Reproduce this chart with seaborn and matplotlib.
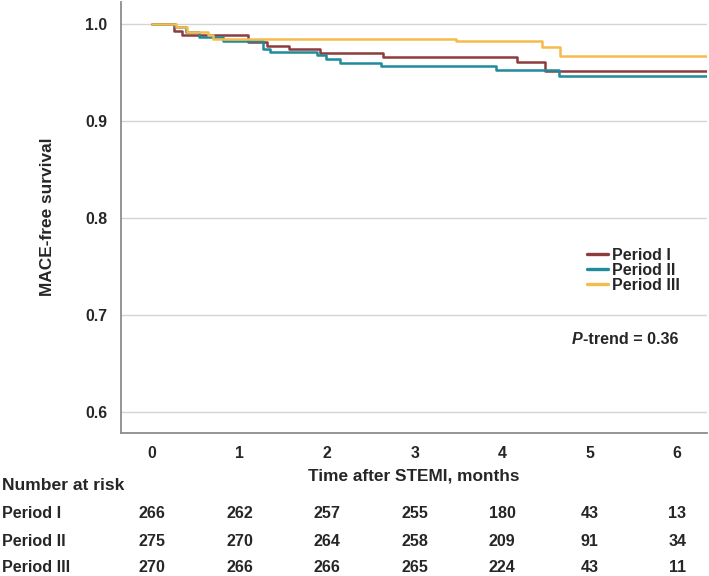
import matplotlib
matplotlib.use("Agg")
import matplotlib.pyplot as plt
import matplotlib.transforms as mtrans
from matplotlib.lines import Line2D
import seaborn as sns
import pandas as pd

# ---------------- data ----------------
periods = ["Period I", "Period II", "Period III"]
colors = ["#8e3b3d", "#1f8b9b", "#f5bb4b"]

time_p1 = [0.0, 0.25, 0.34, 1.10, 1.31, 1.56, 1.92, 2.64, 4.17, 4.49, 6.34]
surv_p1 = [1.000, 0.993, 0.989, 0.981, 0.977, 0.974, 0.970, 0.966, 0.961, 0.952, 0.952]

time_p2 = [0.0, 0.26, 0.39, 0.54, 0.81, 1.27, 1.35, 1.89, 1.99, 2.15, 2.62, 3.93, 4.65, 6.34]
surv_p2 = [1.000, 0.997, 0.992, 0.987, 0.982, 0.974, 0.971, 0.968, 0.964, 0.960, 0.957, 0.953, 0.946, 0.946]

time_p3 = [0.0, 0.27, 0.40, 0.64, 0.70, 3.47, 4.46, 4.66, 6.34]
surv_p3 = [1.000, 0.997, 0.992, 0.989, 0.985, 0.982, 0.976, 0.967, 0.967]

x_ticks = [0, 1, 2, 3, 4, 5, 6]
y_ticks = [0.6, 0.7, 0.8, 0.9, 1.0]
y_tick_labels = ["0.6", "0.7", "0.8", "0.9", "1.0"]

risk_p1 = [266, 262, 257, 255, 180, 43, 13]
risk_p2 = [275, 270, 264, 258, 209, 91, 34]
risk_p3 = [270, 266, 266, 265, 224, 43, 11]

p_trend = "0.36"

# ---------------- build table ----------------
frames = []
for name, t, s in zip(periods, [time_p1, time_p2, time_p3], [surv_p1, surv_p2, surv_p3]):
    frames.append(pd.DataFrame({"time": t, "surv": s, "period": name}))
df = pd.concat(frames, ignore_index=True)

# ---------------- style ----------------
sns.set_style("white")
plt.rcParams["font.family"] = ["Liberation Sans", "DejaVu Sans"]
plt.rcParams["font.weight"] = "bold"

W, H = 709, 576
fig = plt.figure(figsize=(W / 100, H / 100), dpi=100)
ax_l, ax_r, ax_t, ax_b = 121, 707, 2, 433
ax = fig.add_axes([ax_l / W, 1 - ax_b / H, (ax_r - ax_l) / W, (ax_b - ax_t) / H])

sns.lineplot(data=df, x="time", y="surv", hue="period", palette=colors,
             hue_order=periods, estimator=None, sort=False,
             drawstyle="steps-post", linewidth=1.8, legend=False, ax=ax)

ax.set_xlim(-0.354, 6.34)
ax.set_ylim(1 - (ax_b - 24) / 970, 1 + (24 - ax_t) / 970)
ax.set_xticks(x_ticks)
ax.set_xticklabels([str(v) for v in x_ticks])
ax.set_yticks(y_ticks)
ax.set_yticklabels(y_tick_labels)
ax.tick_params(axis="both", length=0, labelsize=11.4)
ax.tick_params(axis="y", pad=10)
ax.tick_params(axis="x", pad=9)
for lab in ax.get_xticklabels() + ax.get_yticklabels():
    lab.set_fontweight("bold")

ax.yaxis.grid(True, color="#d4d4d4", linewidth=1.0)
ax.xaxis.grid(False)
for side in ["top", "right"]:
    ax.spines[side].set_visible(False)
for side in ["left", "bottom"]:
    ax.spines[side].set_color("#8c8c8c")
    ax.spines[side].set_linewidth(1.3)

ax.set_xlabel("Time after STEMI, months", fontsize=12.4, fontweight="bold")
ax.set_ylabel("MACE-free survival", fontsize=12.4, fontweight="bold")
ax.xaxis.set_label_coords(0.5, -0.083)
ax.yaxis.set_label_coords(-0.112, 0.501)

# legend
handles = [Line2D([0], [0], color=c, lw=2.4) for c in colors]
leg = ax.legend(handles, periods, loc="upper left",
                bbox_to_anchor=(587 / W, 1 - 248 / H), bbox_transform=fig.transFigure,
                frameon=False, borderpad=0, borderaxespad=0,
                handlelength=1.3, handletextpad=0.25, labelspacing=0.0,
                prop={"size": 11.5, "weight": "bold"})

# P-trend text
t1 = ax.text((572 - ax_l) / (ax_r - ax_l), (ax_b - 339) / (ax_b - ax_t), "P",
             transform=ax.transAxes, fontsize=11.6, fontweight="bold",
             fontstyle="italic", ha="left", va="center")
ax.annotate("-trend = " + p_trend, xy=(1, 0), xycoords=t1, ha="left", va="bottom",
            fontsize=11.6, fontweight="bold")

# number at risk table
fig.text(2 / W, 1 - 486 / H, "Number at risk", fontsize=12.6, fontweight="bold",
         ha="left", va="center")
blend = mtrans.blended_transform_factory(ax.transData, fig.transFigure)
row_y = [513, 541, 568]
for name, risk, yy in zip(periods, [risk_p1, risk_p2, risk_p3], row_y):
    fig.text(2 / W, 1 - yy / H, name, fontsize=11.6, fontweight="bold",
             ha="left", va="center")
    for xv, n in zip(x_ticks, risk):
        ax.text(xv, 1 - yy / H, str(n), transform=blend, fontsize=11.6,
                fontweight="bold", ha="center", va="center", clip_on=False)

fig.savefig("out.png", dpi=100)
